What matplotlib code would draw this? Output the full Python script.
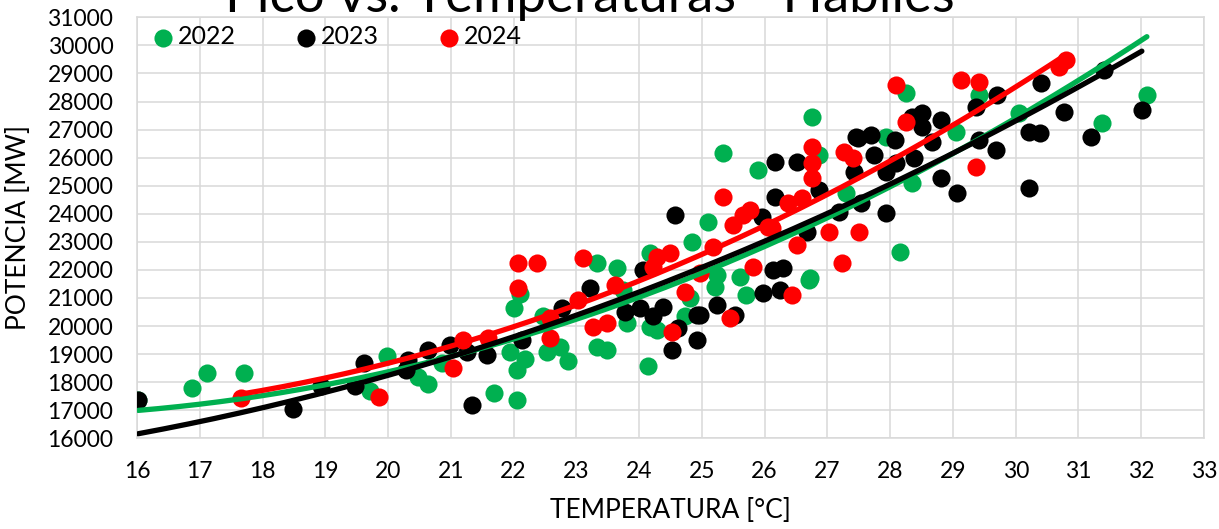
import numpy as np
import matplotlib
matplotlib.use("Agg")
import matplotlib.pyplot as plt

plt.rcParams['font.family'] = ['Lato', 'DejaVu Sans']

title = "Pico vs. Temperaturas - Hábiles"
xlabel = "TEMPERATURA [°C]"
ylabel = "POTENCIA [MW]"
years = ["2022", "2023", "2024"]
colors = ["#00B050", "#000000", "#FF0000"]
trend_order = 2

temp_2022 = [16.02, 16.87, 17.11, 17.70, 19.72, 19.99, 20.48, 20.64, 20.86, 21.68, 22.06, 21.95,
             22.18, 22.06, 22.01, 22.10, 22.53, 22.47, 22.87, 23.33, 23.65, 23.74, 23.33, 23.49,
             23.81, 24.17, 24.17, 24.14, 24.28, 24.84, 25.09, 24.81, 24.73, 25.24, 25.21, 25.33,
             25.89, 25.71, 25.60, 26.72, 26.76, 26.71, 26.86, 27.30, 27.94, 28.16, 28.26, 28.34,
             29.05, 29.42, 30.05, 31.37, 32.09, 22.74]
pow_2022 = [17350, 17780, 18340, 18340, 17670, 18950, 18170, 17920, 18700, 17630, 17380, 19090,
            18840, 18450, 20650, 21150, 19090, 20340, 18740, 22250, 22080, 21290, 19270, 19160,
            20120, 19980, 22610, 18560, 19870, 23000, 23710, 21010, 20340, 21830, 21400, 26170,
            25560, 21120, 21760, 21720, 27450, 21650, 26090, 24740, 26740, 22650, 28300, 25080,
            26910, 28230, 27590, 27230, 28230, 19270]

temp_2023 = [16.02, 18.48, 18.93, 19.48, 19.61, 20.28, 20.31, 20.63, 20.99, 21.26, 21.34, 21.58,
             22.14, 22.77, 23.22, 23.77, 24.01, 24.22, 24.38, 24.06, 24.57, 24.62, 24.52, 24.93,
             24.92, 25.24, 25.52, 24.97, 25.95, 26.16, 26.16, 26.51, 26.13, 26.29, 26.24, 25.97,
             26.68, 26.87, 27.19, 27.43, 27.46, 27.48, 27.54, 27.70, 27.75, 27.94, 27.94, 28.07,
             28.10, 28.35, 28.38, 28.50, 28.51, 28.66, 28.81, 28.81, 29.07, 29.37, 29.42, 29.70,
             29.69, 30.21, 30.39, 30.21, 30.40, 30.77, 31.20, 31.41, 32.01]
pow_2023 = [17350, 17030, 17850, 17880, 18700, 18450, 18800, 19160, 19340, 19060, 17170, 18980,
            19520, 20650, 21370, 20510, 20650, 20340, 20690, 22010, 23960, 19940, 19160, 20410,
            19520, 20760, 20410, 20410, 23890, 24600, 25850, 25850, 22010, 22080, 21300, 21190,
            23360, 24850, 24070, 25490, 26730, 26700, 24390, 26810, 26090, 25490, 24030, 26630,
            25810, 27450, 25990, 27090, 27590, 26560, 27340, 25280, 24740, 27800, 26630, 28230,
            26270, 26910, 26880, 24920, 28650, 27620, 26730, 29120, 27690]

temp_2024 = [17.65, 19.85, 21.04, 21.20, 21.60, 22.07, 22.38, 22.07, 22.58, 22.58, 23.11, 23.03,
             23.62, 23.27, 23.49, 24.28, 24.49, 24.22, 24.73, 24.52, 25.17, 24.97, 25.45, 25.33,
             25.49, 25.65, 25.76, 26.05, 26.11, 25.81, 26.43, 26.51, 26.37, 26.59, 27.03, 27.24,
             26.76, 26.76, 26.76, 27.27, 27.40, 27.51, 28.10, 28.26, 29.13, 29.42, 29.37, 30.69,
             30.80]
pow_2024 = [17420, 17460, 18490, 19520, 19590, 22250, 22250, 21370, 20300, 19590, 22430, 20940,
            21470, 19980, 20120, 22470, 22610, 22110, 21220, 19800, 22820, 21900, 20300, 24600,
            23610, 23960, 24140, 23540, 23500, 22110, 21120, 22890, 24390, 24570, 23360, 22250,
            25280, 25810, 26380, 26200, 25990, 23360, 28580, 27270, 28760, 28690, 25670, 29220,
            29470]

temps = [temp_2022, temp_2023, temp_2024]
pows = [pow_2022, pow_2023, pow_2024]

W, H = 1219, 529
fig = plt.figure(figsize=(W / 100, H / 100), dpi=100)
ax = fig.add_axes([137 / W, 1 - 438.3 / H, (1204 - 137) / W, (438.3 - 17.3) / H])

for t, p, c, y in zip(temps, pows, colors, years):
    ax.scatter(t, p, s=170, color=c, linewidths=0, zorder=3, label=y)

for t, p, c in zip(temps, pows, colors):
    coef = np.polyfit(t, p, trend_order)
    xs = np.linspace(min(t), max(t), 200)
    ax.plot(xs, np.polyval(coef, xs), color=c, lw=3.8, solid_capstyle='round', zorder=4)

ax.set_xlim(16, 33)
ax.set_ylim(16000, 31000)
ax.set_xticks(np.arange(16, 34, 1))
ax.set_yticks(np.arange(16000, 31001, 1000))
ax.grid(True, color="#D9D9D9", lw=1.1, zorder=0)
ax.set_axisbelow(True)
for s in ax.spines.values():
    s.set_color("#D9D9D9")
    s.set_linewidth(1.1)
ax.tick_params(length=0, labelsize=16.5, colors="black")
ax.tick_params(axis='x', pad=16)
ax.tick_params(axis='y', pad=17)

ax.set_xlabel(xlabel, fontsize=19, labelpad=12)
ax.set_ylabel(ylabel, fontsize=19, labelpad=12)

fig.text(590 / W, 1 - 12 / H, title, fontsize=38, ha='center', va='baseline')

leg = ax.legend(loc='center left', bbox_to_anchor=(155.5 / W, 1 - 37 / H),
                bbox_transform=fig.transFigure, ncol=3, frameon=False, fontsize=18,
                handlelength=0.6, handletextpad=0.3, columnspacing=2.5,
                borderpad=0, borderaxespad=0, scatterpoints=1)

fig.savefig("out.png", dpi=100)
